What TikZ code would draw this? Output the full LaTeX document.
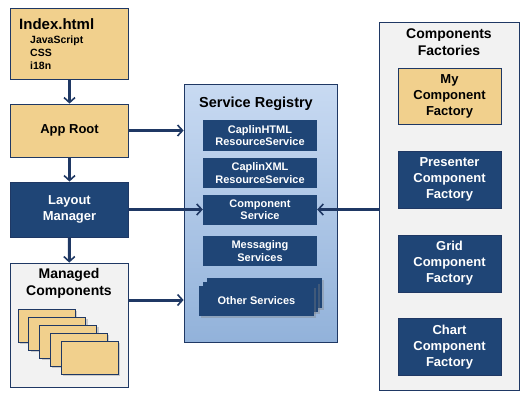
\documentclass[tikz,border=0pt]{standalone}
\usepackage{fontspec}
\setmainfont{Liberation Sans}
\usetikzlibrary{arrows.meta,shadows}
\definecolor{navy}{RGB}{31,56,100}
\definecolor{boxblue}{RGB}{31,69,118}
\definecolor{tanfill}{RGB}{241,208,141}
\definecolor{panelgray}{RGB}{242,242,242}
\definecolor{regtop}{RGB}{200,218,242}
\definecolor{regbot}{RGB}{146,178,218}
\newcommand{\fs}[1]{\fontsize{#1}{#1}\selectfont}
\begin{document}
\begin{tikzpicture}[x=1pt,y=-1pt,>={Straight Barb[length=5pt,width=11pt,line width=1.6pt]},font=\bfseries,
  tanbox/.style={draw=navy,line width=0.8pt,fill=tanfill,minimum width=118pt,align=center,font=\bfseries\fs{13}},
  bluebox/.style={draw=navy,line width=0.8pt,fill=boxblue,text=white,minimum width=118pt,align=center,font=\bfseries\fs{13}},
  panel/.style={draw=navy,line width=0.8pt,fill=panelgray},
  svc/.style={fill=boxblue,text=white,minimum width=114pt,minimum height=30pt,inner sep=0pt,align=center,font=\bfseries\fs{11}},
  fact/.style={bluebox,minimum width=103pt,minimum height=57pt,inner sep=0pt},
  card/.style={draw=navy,line width=0.8pt,fill=tanfill,minimum width=57pt,minimum height=33pt,
    drop shadow={opacity=0.35,shadow xshift=2pt,shadow yshift=-2pt}},
  txt/.style={inner sep=0pt,align=center},
  link/.style={->,draw=navy,line width=3pt}]
\useasboundingbox (0,0) rectangle (530,400);
% left column
\node[tanbox,minimum height=71pt] (index) at (69.5,43.5) {};
\node[txt,anchor=west,font=\bfseries\fs{15}] (idxname) at (19,24) {Index.html};
\node[txt,anchor=west,font=\bfseries\fs{10.5},align=left] (idxfiles) at (30,53) {JavaScript\\[2.5pt]CSS\\[2.5pt]i18n};
\node[tanbox,minimum height=53pt] (approot) at (69.5,130.5) {App Root};
\node[bluebox,minimum height=55pt] (layout) at (69.5,209.5) {Layout\\[3pt]Manager};
\node[panel,minimum width=118pt,minimum height=124pt] (managed) at (69,325) {};
\node[txt,font=\bfseries\fs{14}] (mgdname) at (69,283) {Managed\\[3pt]Components};
\foreach \i in {0,...,4}
  \node[card] (card\i) at (46.5+10.75*\i,325.5+8*\i) {};
% service registry
\node[draw=navy,line width=0.8pt,top color=regtop,bottom color=regbot,minimum width=153pt,minimum height=258pt] (registry) at (260.5,213) {};
\node[txt,font=\bfseries\fs{14.5}] (regname) at (256,104) {Service Registry};
\node[svc,minimum height=31pt] (html) at (260,135.5) {CaplinHTML\\[1.5pt]ResourceService};
\node[svc] (xml) at (260,173) {CaplinXML\\[1.5pt]ResourceService};
\node[svc] (compsvc) at (260,209.5) {Component\\[1.5pt]Service};
\node[svc] (msg) at (260,251) {Messaging\\[1.5pt]Services};
\node[svc,minimum width=115pt,drop shadow={opacity=0.35,shadow xshift=2pt,shadow yshift=-2pt}] (other2) at (264.5,293) {};
\node[svc,minimum width=115pt,drop shadow={opacity=0.35,shadow xshift=2pt,shadow yshift=-2pt}] (other1) at (260.5,297) {};
\node[svc,minimum width=115pt,drop shadow={opacity=0.35,shadow xshift=2pt,shadow yshift=-2pt}] (other) at (256.5,301) {Other Services};
% components factories
\node[panel,minimum width=140pt,minimum height=368pt] (factories) at (449,206) {};
\node[txt,font=\bfseries\fs{14}] (factname) at (449,42.5) {Components\\[3pt]Factories};
\node[tanbox,minimum width=103pt,minimum height=56pt,inner sep=0pt] (myfact) at (449.5,96) {My\\[3pt]Component\\[3pt]Factory};
\node[fact] (presfact) at (449.5,179.5) {Presenter\\[3pt]Component\\[3pt]Factory};
\node[fact] (gridfact) at (449.5,263.5) {Grid\\[3pt]Component\\[3pt]Factory};
\node[fact] (chartfact) at (449.5,347) {Chart\\[3pt]Component\\[3pt]Factory};
% connectors
\draw[link] (index) -- (approot);
\draw[link] (approot) -- (layout);
\draw[link] (layout) -- (managed);
\draw[link] (approot.east) -- (approot.east -| registry.west);
\draw[link] (layout.east) -- (layout.east -| compsvc.west);
\draw[link] ([yshift=25pt]managed.east) -- ([yshift=25pt]managed.east -| registry.west);
\draw[link] (factories.west |- compsvc) -- (compsvc.east);
\end{tikzpicture}
\end{document}
